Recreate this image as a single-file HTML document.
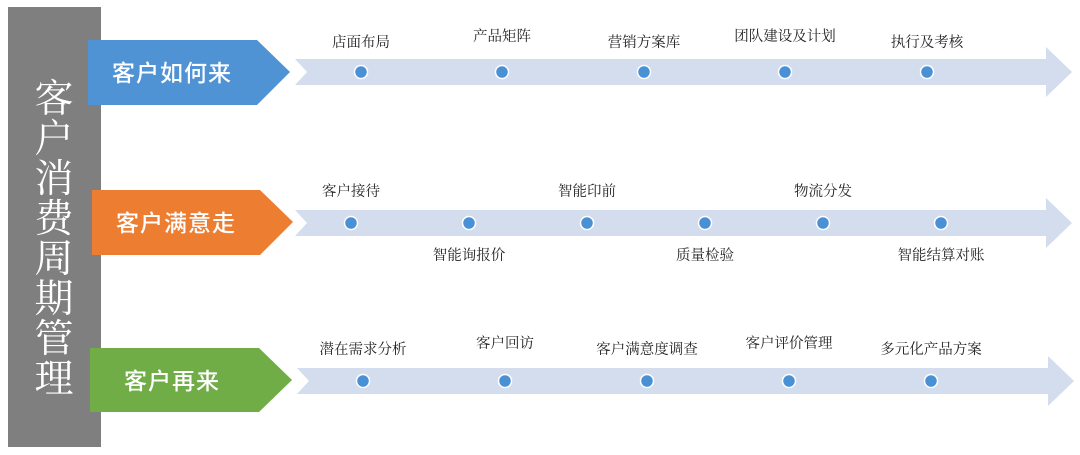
<!DOCTYPE html>
<html><head><meta charset="utf-8"><style>
html,body{margin:0;padding:0;background:#fff;width:1080px;height:455px;overflow:hidden}
svg{display:block}
.l{font-family:"Liberation Serif","Noto Serif CJK SC",serif;font-size:14.5px;fill:#222;text-anchor:middle}
.c{font-family:"Liberation Sans","Noto Sans CJK SC",sans-serif;font-size:23px;fill:#fff;font-weight:500;text-anchor:middle;letter-spacing:1px}
.g{font-family:"Liberation Serif","Noto Serif CJK SC",serif;font-size:39px;fill:#fff;text-anchor:middle}
</style></head><body>
<svg width="1080" height="455" viewBox="0 0 1080 455">
<rect x="8" y="7" width="93" height="440" fill="#7f7f7f"/>
<g class="g">
<text x="54" y="112">客</text><text x="54" y="152">户</text><text x="54" y="192">消</text><text x="54" y="232">费</text><text x="54" y="272">周</text><text x="54" y="312">期</text><text x="54" y="352">管</text><text x="54" y="392">理</text>
</g>
<polygon points="295,59 1046,59 1046,47 1072,72 1046,97 1046,85 295,85 307,72" fill="#d3ddee"/>
<polygon points="88,40 257,40 290,72 257,105 88,105" fill="#4f93d5"/>
<text class="c" x="172" y="81">客户如何来</text>
<g fill="#4a90d4" stroke="#fff" stroke-width="1.5">
<circle cx="361" cy="72" r="6.5"/><circle cx="502" cy="72" r="6.5"/><circle cx="644" cy="72" r="6.5"/><circle cx="785" cy="72" r="6.5"/><circle cx="927" cy="72" r="6.5"/>
</g>
<g class="l">
<text x="361" y="47">店面布局</text><text x="502" y="41">产品矩阵</text><text x="644" y="47">营销方案库</text><text x="785" y="41">团队建设及计划</text><text x="927" y="47">执行及考核</text>
</g>
<polygon points="295,210 1046,210 1046,198 1072,223 1046,248 1046,236 295,236 307,223" fill="#d3ddee"/>
<polygon points="92,190 260,190 293,222 260,255 92,255" fill="#ed7d31"/>
<text class="c" x="176" y="231">客户满意走</text>
<g fill="#4a90d4" stroke="#fff" stroke-width="1.5">
<circle cx="351" cy="223" r="6.5"/><circle cx="469" cy="223" r="6.5"/><circle cx="587" cy="223" r="6.5"/><circle cx="705" cy="223" r="6.5"/><circle cx="823" cy="223" r="6.5"/><circle cx="941" cy="223" r="6.5"/>
</g>
<g class="l">
<text x="351" y="196">客户接待</text><text x="469" y="260">智能询报价</text><text x="587" y="196">智能印前</text><text x="705" y="260">质量检验</text><text x="823" y="196">物流分发</text><text x="941" y="260">智能结算对账</text>
</g>
<polygon points="297,368 1048,368 1048,356 1074,381 1048,406 1048,394 297,394 309,381" fill="#d3ddee"/>
<polygon points="90,348 259,348 292,380 259,412 90,412" fill="#70ad47"/>
<text class="c" x="172" y="389">客户再来</text>
<g fill="#4a90d4" stroke="#fff" stroke-width="1.5">
<circle cx="363" cy="381" r="6.5"/><circle cx="505" cy="381" r="6.5"/><circle cx="647" cy="381" r="6.5"/><circle cx="789" cy="381" r="6.5"/><circle cx="931" cy="381" r="6.5"/>
</g>
<g class="l">
<text x="363" y="354">潜在需求分析</text><text x="505" y="348">客户回访</text><text x="647" y="354">客户满意度调查</text><text x="789" y="348">客户评价管理</text><text x="931" y="354">多元化产品方案</text>
</g>
</svg>
</body></html>
